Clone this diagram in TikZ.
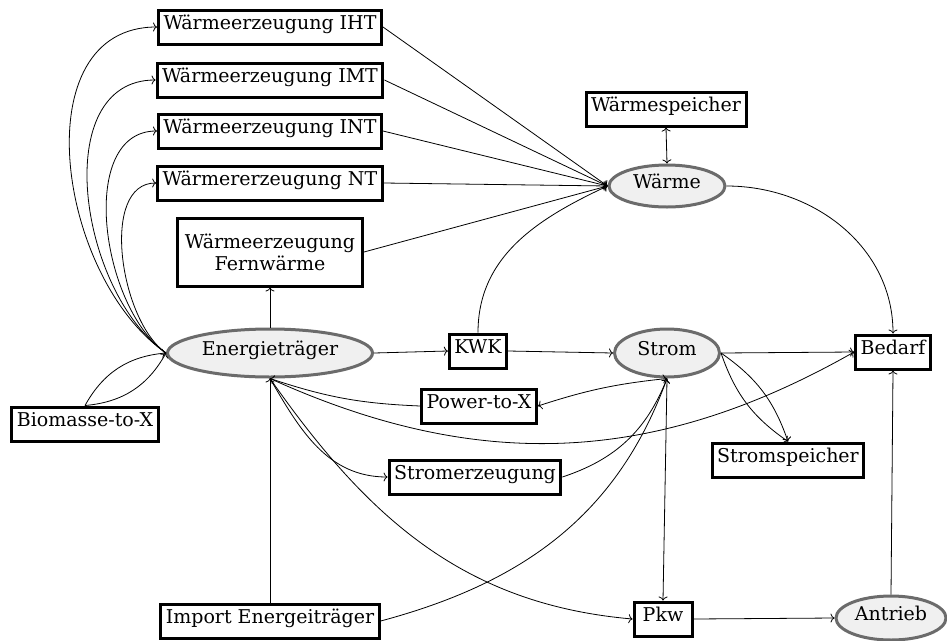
\documentclass[tikz,border=0pt]{standalone}
\usepackage{fontspec}
\setmainfont{DejaVu Serif}
\usetikzlibrary{shapes.geometric, arrows.meta}

\begin{document}
\begin{tikzpicture}[x=1pt, y=-1pt,
  font=\fontsize{19}{22}\selectfont,
  box/.style={draw, line width=3pt, fill=white, inner xsep=5pt, inner ysep=0pt,
    minimum height=34pt, text height=0.75em, text depth=0.22em},
  hub/.style={ellipse, draw=black!58, line width=3pt, fill=black!6, inner sep=0pt,
    text height=0.75em, text depth=0.22em},
  flow/.style={-{To[length=4pt, width=9pt]}, line width=0.8pt},
  flow2/.style={{To[length=4pt, width=9pt]}-{To[length=4pt, width=9pt]}, line width=0.8pt},
]
\useasboundingbox (0,0) rectangle (947,640);

% heat side
\node[box] (iht) at (270,27)  {Wärmeerzeugung IHT};
\node[box] (imt) at (270,80)  {Wärmeerzeugung IMT};
\node[box] (int) at (270,131) {Wärmeerzeugung INT};
\node[box] (nt)  at (270,183) {Wärmererzeugung NT};
\node[box, text height=, text depth=, align=center, minimum height=68pt,
  minimum width=185pt] (fw) at (270,252) {Wärmeerzeugung\\Fernwärme};
\node[box] (wsp) at (666,109) {Wärmespeicher};
\node[hub, minimum width=116pt, minimum height=42pt] (waerme) at (667,186) {Wärme};

% carriers and power
\node[hub, minimum width=205pt, minimum height=48pt] (et) at (270,353) {Energieträger};
\node[box] (bio) at (85,424) {Biomasse-to-X};
\node[box] (kwk) at (478,351) {KWK};
\node[hub, minimum width=105pt, minimum height=48pt] (strom) at (667,353) {Strom};
\node[box] (bedarf) at (893,352) {Bedarf};
\node[box] (ptx) at (479,406) {Power-to-X};
\node[box] (ssp) at (788,460) {Stromspeicher};
\node[box] (serz) at (475,477) {Stromerzeugung};
\node[box] (imp) at (270,621) {Import Energeiträger};
\node[box, minimum width=58pt] (pkw) at (663,619) {Pkw};
\node[hub, minimum width=110pt, minimum height=44pt] (antrieb) at (891,618) {Antrieb};

% fuel to heat generators
\draw[flow] (et.west) to[out=145, in=180, looseness=1.05] (iht.west);
\draw[flow] (et.west) to[out=145, in=180, looseness=1.0] (imt.west);
\draw[flow] (et.west) to[out=145, in=180, looseness=0.92] (int.west);
\draw[flow] (et.west) to[out=145, in=180, looseness=0.85] (nt.west);
\draw[flow] (et.north) -- (fw.south);

% biomass loop
\draw[flow] (bio.north) to[bend left=28] (et.west);
\draw[flow] (bio.north) to[bend right=28] (et.west);

% heat generators to heat
\draw[flow] (iht.east) -- (waerme.west);
\draw[flow] (imt.east) -- (waerme.west);
\draw[flow] (int.east) -- (waerme.west);
\draw[flow] (nt.east) -- (waerme.west);
\draw[flow] (fw.east) -- (waerme.west);
\draw[flow] (kwk.north) to[out=90, in=205] (waerme.west);
\draw[flow2] (wsp.south) -- (waerme.north);
\draw[flow] (waerme.east) to[out=0, in=90] (bedarf.north);

% power
\draw[flow] (et.east) -- (kwk.west);
\draw[flow] (kwk.east) -- (strom.west);
\draw[flow] (strom.east) -- (bedarf.west);
\draw[flow] (strom.east) to[bend left=18] (ssp.north);
\draw[flow] (strom.east) to[bend right=18] (ssp.north);
\draw[flow2] (strom.south) to[bend right=6] (ptx.east);
\draw[flow] (ptx.west) to[bend left=8] (et.south);
\draw[flow] (et.south) to[bend right=27] (bedarf.west);
\draw[flow] (et.south) to[out=-60, in=180] (serz.west);
\draw[flow] (serz.east) to[bend right=25] (strom.south);
\draw[flow] (imp.north) -- (et.south);
\draw[flow] (imp.east) to[out=15, in=-110] (strom.south);
\draw[flow] (et.south) to[out=-55, in=175] (pkw.west);
\draw[flow] (strom.south) -- (pkw.north);
\draw[flow] (pkw.east) -- (antrieb.west);
\draw[flow] (antrieb.north) -- (bedarf.south);
\end{tikzpicture}
\end{document}
